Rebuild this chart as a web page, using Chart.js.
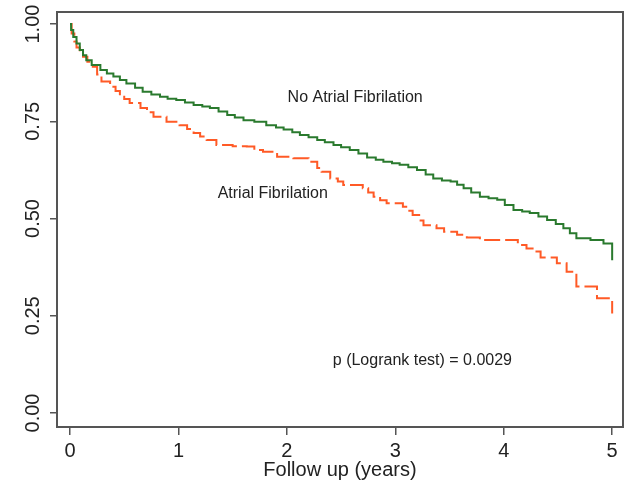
<!DOCTYPE html>
<html>
<head>
<meta charset="utf-8">
<script src="https://cdn.jsdelivr.net/npm/chart.js@4/dist/chart.umd.min.js"></script>
<style>
html,body{margin:0;padding:0;background:#fff;}
#wrap{width:629px;height:485px;position:relative;}
</style>
</head>
<body>
<div id="wrap"><canvas id="c" width="629" height="485"></canvas></div>
<script>
// Kaplan-Meier step data
const noAfTimes = [0, 0.01, 0.03, 0.06, 0.09, 0.12, 0.15, 0.20, 0.28, 0.34, 0.40, 0.46, 0.52, 0.60, 0.67, 0.75, 0.83, 0.90, 0.98, 1.06, 1.14, 1.22, 1.29, 1.37, 1.45, 1.52, 1.60, 1.70, 1.81, 1.90, 1.97, 2.05, 2.12, 2.20, 2.28, 2.35, 2.43, 2.50, 2.58, 2.66, 2.74, 2.82, 2.89, 2.97, 3.04, 3.12, 3.20, 3.28, 3.35, 3.43, 3.51, 3.57, 3.63, 3.70, 3.78, 3.86, 3.94, 4.01, 4.09, 4.17, 4.24, 4.32, 4.40, 4.48, 4.55, 4.61, 4.67, 4.80, 4.92, 5.00];
const noAfSurv  = [1.0, 0.985, 0.967, 0.950, 0.933, 0.920, 0.907, 0.895, 0.882, 0.873, 0.865, 0.856, 0.847, 0.836, 0.826, 0.819, 0.813, 0.808, 0.805, 0.798, 0.792, 0.788, 0.784, 0.775, 0.766, 0.760, 0.753, 0.749, 0.740, 0.734, 0.729, 0.722, 0.715, 0.709, 0.702, 0.696, 0.689, 0.683, 0.676, 0.667, 0.657, 0.651, 0.646, 0.642, 0.638, 0.632, 0.625, 0.613, 0.603, 0.598, 0.595, 0.587, 0.578, 0.567, 0.556, 0.552, 0.548, 0.535, 0.522, 0.518, 0.514, 0.505, 0.496, 0.486, 0.475, 0.462, 0.449, 0.445, 0.436, 0.393];

const afTimes = [0, 0.015, 0.04, 0.06, 0.09, 0.12, 0.16, 0.21, 0.25, 0.29, 0.37, 0.42, 0.46, 0.50, 0.55, 0.65, 0.71, 0.77, 0.89, 1.01, 1.08, 1.14, 1.20, 1.26, 1.35, 1.50, 1.63, 1.70, 1.78, 1.91, 2.06, 2.20, 2.28, 2.32, 2.40, 2.47, 2.52, 2.70, 2.75, 2.80, 2.86, 2.92, 3.07, 3.12, 3.16, 3.22, 3.26, 3.38, 3.45, 3.57, 3.66, 3.78, 4.13, 4.21, 4.28, 4.34, 4.49, 4.58, 4.67, 4.86, 5.00];
const afSurv  = [1.0, 0.976, 0.955, 0.940, 0.928, 0.916, 0.903, 0.890, 0.870, 0.852, 0.839, 0.828, 0.817, 0.807, 0.797, 0.784, 0.773, 0.762, 0.749, 0.740, 0.730, 0.720, 0.711, 0.702, 0.689, 0.686, 0.685, 0.676, 0.672, 0.659, 0.655, 0.646, 0.630, 0.620, 0.603, 0.595, 0.586, 0.578, 0.567, 0.556, 0.547, 0.539, 0.530, 0.520, 0.509, 0.495, 0.483, 0.475, 0.466, 0.458, 0.451, 0.445, 0.432, 0.423, 0.415, 0.400, 0.385, 0.363, 0.325, 0.295, 0.256];

const xTicks = [0, 1, 2, 3, 4, 5];
const yTicks = [0, 0.25, 0.5, 0.75, 1.0];
const yTickLabels = ['0.00', '0.25', '0.50', '0.75', '1.00'];
const xTitle = 'Follow up (years)';

const annoTexts = ['No Atrial Fibrilation', 'Atrial Fibrilation', 'p (Logrank test) = 0.0029'];
const annoX = [2.63, 1.87, 3.25];
const annoY = [0.812, 0.565, 0.136];

const toPts = (t, s) => t.map((x, i) => ({x: x, y: s[i]}));
const FONT = '"Liberation Sans", Arial, sans-serif';
const AXIS_COLOR = '#555555';
const TEXT_COLOR = '#222222';

const boxAndText = {
  id: 'boxAndText',
  afterDraw(chart) {
    const ctx = chart.ctx;
    const a = chart.chartArea;
    const xs = chart.scales.x, ys = chart.scales.y;
    ctx.save();
    // frame
    ctx.strokeStyle = AXIS_COLOR;
    ctx.lineWidth = 2;
    ctx.strokeRect(a.left, a.top, a.right - a.left, a.bottom - a.top);
    // y tick labels, rotated
    ctx.fillStyle = TEXT_COLOR;
    ctx.font = '20px ' + FONT;
    ctx.textAlign = 'center';
    ctx.textBaseline = 'middle';
    yTicks.forEach((v, i) => {
      const py = ys.getPixelForValue(v);
      ctx.save();
      ctx.translate(33, py);
      ctx.rotate(-Math.PI / 2);
      ctx.fillText(yTickLabels[i], 0, 0);
      ctx.restore();
    });
    // annotations
    ctx.font = '16px ' + FONT;
    annoTexts.forEach((t, i) => {
      ctx.fillText(t, xs.getPixelForValue(annoX[i]), ys.getPixelForValue(annoY[i]));
    });
    ctx.restore();
  }
};

new Chart(document.getElementById('c'), {
  type: 'line',
  data: {
    datasets: [
      {
        label: 'No Atrial Fibrilation',
        data: toPts(noAfTimes, noAfSurv),
        borderColor: '#2a7a2e',
        borderWidth: 2,
        stepped: 'before',
        pointRadius: 0,
        fill: false
      },
      {
        label: 'Atrial Fibrilation',
        data: toPts(afTimes, afSurv),
        borderColor: '#ff5a26',
        borderWidth: 2,
        borderDash: [16, 5],
        stepped: 'before',
        pointRadius: 0,
        fill: false
      }
    ]
  },
  options: {
    responsive: false,
    animation: false,
    devicePixelRatio: 1,
    layout: {padding: {top: 12, right: 6, left: 0, bottom: 0}},
    plugins: {legend: {display: false}, tooltip: {enabled: false}},
    scales: {
      x: {
        type: 'linear',
        min: -0.12,
        max: 5.10,
        afterBuildTicks: (s) => { s.ticks = xTicks.map(v => ({value: v})); },
        afterFit: (s) => { s.height = 58; },
        border: {display: false},
        grid: {display: true, drawOnChartArea: false, drawTicks: true, tickLength: 8, color: AXIS_COLOR, lineWidth: 1.5},
        ticks: {
          color: TEXT_COLOR,
          font: {family: FONT, size: 20},
          padding: 4,
          maxRotation: 0,
          callback: (v) => String(v)
        },
        title: {
          display: true,
          text: xTitle,
          color: TEXT_COLOR,
          font: {family: FONT, size: 20},
          padding: {top: 0, bottom: 3}
        }
      },
      y: {
        type: 'linear',
        min: -0.036,
        max: 1.031,
        afterBuildTicks: (s) => { s.ticks = yTicks.map(v => ({value: v})); },
        afterFit: (s) => { s.width = 57; },
        border: {display: false},
        grid: {display: true, drawOnChartArea: false, drawTicks: true, tickLength: 7, color: AXIS_COLOR, lineWidth: 1.5},
        ticks: {display: false}
      }
    }
  },
  plugins: [boxAndText]
});
</script>
</body>
</html>
